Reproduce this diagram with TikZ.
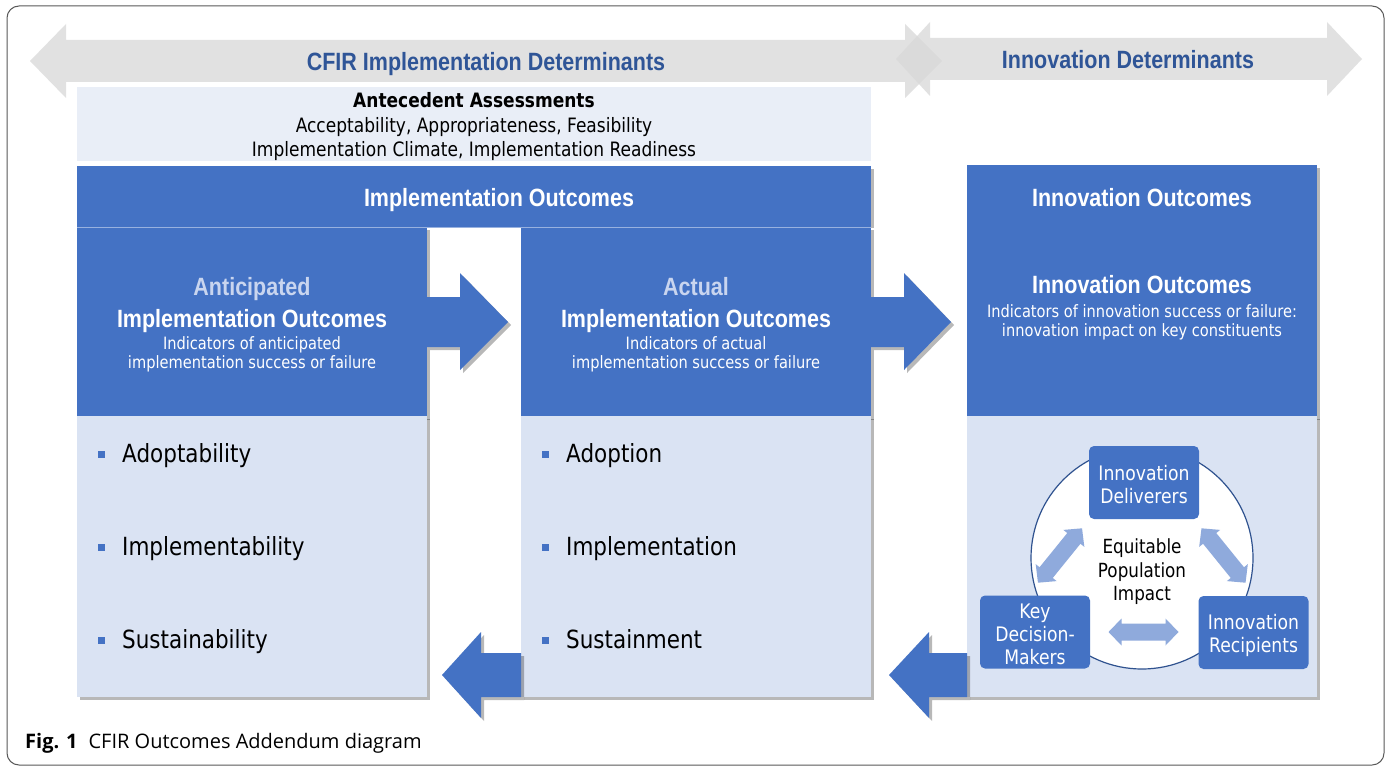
\documentclass[tikz,border=0pt]{standalone}
\usepackage{fontspec}
\setmainfont{DejaVu Sans}[FakeStretch=0.86]
\newfontfamily\headfont{Liberation Sans}[FakeStretch=0.86]
\newfontfamily\capfont{Open Sans}
\usetikzlibrary{shadows}
\definecolor{cblue}{HTML}{4472C4}
\definecolor{clight}{HTML}{DAE3F3}
\definecolor{cante}{HTML}{E9EEF7}
\definecolor{ctitle}{HTML}{2F5597}
\definecolor{cpale}{HTML}{C9D5EF}
\definecolor{carrow}{HTML}{8FAADC}
\definecolor{ccircle}{HTML}{2F528F}
\definecolor{cgray}{HTML}{D8D8D8}
\tikzset{
  shad/.style={drop shadow={shadow xshift=3pt, shadow yshift=-3pt, opacity=0.28, fill=black}},
  bluebox/.style={fill=cblue, draw=none, inner sep=0pt, outer sep=0pt, anchor=north west, shad},
  lightbox/.style={fill=clight, draw=none, inner sep=0pt, outer sep=0pt, anchor=north west, shad},
  bigtitle/.style={font=\headfont\bfseries\fontsize{25}{30}\selectfont, text=ctitle, anchor=base, inner sep=0pt},
  head/.style={font=\headfont\bfseries\fontsize{25}{30}\selectfont, text=white, anchor=base, inner sep=0pt},
  palehead/.style={head, text=cpale},
  ind/.style={font=\fontsize{17}{20}\selectfont, text=white, anchor=base, inner sep=0pt},
  ante/.style={font=\fontsize{19.8}{24}\selectfont, text=black, anchor=base, inner sep=0pt},
  item/.style={font=\fontsize{25}{30}\selectfont, text=black, anchor=base west, inner sep=0pt},
  bullet/.style={fill=cblue, minimum size=6.5pt, inner sep=0pt},
  role/.style={fill=cblue, rounded corners=5pt, minimum width=110pt, minimum height=73pt, inner sep=0pt},
  roletext/.style={text=white, font=\fontsize{20}{23}\selectfont, anchor=base, inner sep=0pt},
  grayarrow/.style={fill=cgray, opacity=0.75},
  blockarrow/.style={fill=cblue, shad},
  smallarrow/.style={fill=carrow}
}
\newcommand\dblarrow[3]{%
  \begin{scope}[shift={(#1,#2)}, rotate=#3]
    \fill[smallarrow] (-35,0) -- (-22,13.5) -- (-22,8.5) -- (22,8.5) -- (22,13.5) -- (35,0)
      -- (22,-13.5) -- (22,-8.5) -- (-22,-8.5) -- (-22,-13.5) -- cycle;
  \end{scope}}
\begin{document}
\begin{tikzpicture}[x=1pt,y=-1pt]
\useasboundingbox (0,0) rectangle (1391,773);
\fill[white] (0,0) rectangle (1391,773);
\draw[rounded corners=12pt, draw=black!65, line width=1pt] (7,6) rectangle (1384,765);

% top gray double arrows
\fill[grayarrow] (30,61) -- (66,24) -- (66,40) -- (905,40) -- (905,24) -- (942,61)
  -- (905,98) -- (905,82) -- (66,82) -- (66,98) -- cycle;
\fill[grayarrow] (896,59) -- (930,22) -- (930,38) -- (1327,38) -- (1327,22) -- (1362,59)
  -- (1327,96) -- (1327,80) -- (930,80) -- (930,96) -- cycle;
\node[bigtitle] (cfirT) at (486,71) {CFIR Implementation Determinants};
\node[bigtitle] (innT) at (1128,69) {Innovation Determinants};

% antecedent box
\node[fill=cante, anchor=north west, minimum width=794pt, minimum height=74pt, inner sep=0pt] (ante) at (77,87) {};
\node[ante, font=\fontsize{19.8}{24}\selectfont\bfseries] (a1) at (474,107) {Antecedent Assessments};
\node[ante] (a2) at (474,132) {Acceptability, Appropriateness, Feasibility};
\node[ante] (a3) at (474,156) {Implementation Climate, Implementation Readiness};

% implementation outcomes
\fill[black, opacity=0.28] (871,169) rectangle (874,228);
\node[bluebox, minimum width=350pt, minimum height=190pt] (antic) at (77,227) {};
\node[bluebox, minimum width=350pt, minimum height=190pt] (actual) at (521,227) {};
\node[fill=cblue, draw=none, inner sep=0pt, outer sep=0pt, anchor=north west, minimum width=794pt, minimum height=61pt] (impH) at (77,166) {};
\draw[cblue!55!white, line width=0.8pt] (impH.south west) -- (impH.south east);
\node[lightbox, minimum width=350pt, minimum height=281pt] (anticL) at (77,416) {};
\node[lightbox, minimum width=350pt, minimum height=281pt] (actualL) at (521,416) {};

% innovation outcomes
\node[bluebox, minimum width=350pt, minimum height=252pt] (innH) at (967,165) {};
\node[lightbox, minimum width=350pt, minimum height=281pt] (innL) at (967,416) {};

% block arrows
\fill[blockarrow] (antic.east |- 0,297) -- (460,297) -- (460,273) -- (508,322) -- (460,370) -- (460,347) -- (antic.east |- 0,347) -- cycle;
\fill[blockarrow] (actual.east |- 0,297) -- (904,297) -- (904,273) -- (951,322) -- (904,370) -- (904,347) -- (actual.east |- 0,347) -- cycle;
\fill[blockarrow] (actualL.west |- 0,653) -- (481,653) -- (481,632) -- (442,675) -- (481,718) -- (481,697) -- (actualL.south west) -- cycle;
\fill[blockarrow] (innL.west |- 0,653) -- (929,653) -- (929,632) -- (889,675) -- (929,718) -- (929,697) -- (innL.south west) -- cycle;

% texts
\node[head] (t1) at (499,206) {Implementation Outcomes};
\node[palehead] (t2) at (252,295) {Anticipated};
\node[head] (t3) at (252,327) {Implementation Outcomes};
\node[ind] (t4) at (252,349) {Indicators of anticipated};
\node[ind] (t5) at (252,368) {implementation success or failure};
\node[palehead] (t6) at (696,295) {Actual};
\node[head] (t7) at (696,327) {Implementation Outcomes};
\node[ind] (t8) at (696,349) {Indicators of actual};
\node[ind] (t9) at (696,368) {implementation success or failure};
\node[head] (t10) at (1142,206) {Innovation Outcomes};
\node[head] (t11) at (1142,293) {Innovation Outcomes};
\node[ind] (t12) at (1142,317) {Indicators of innovation success or failure:};
\node[ind] (t13) at (1142,336) {innovation impact on key constituents};

% bullet items
\foreach \y/\a/\b [count=\i] in {462/Adoptability/Adoption, 555/Implementability/Implementation, 648/Sustainability/Sustainment}{
  \node[bullet] (bl\i) at (101.5,\y-7.5) {};
  \node[item] (il\i) at (122,\y) {\a};
  \node[bullet] (bm\i) at (545.5,\y-7.5) {};
  \node[item] (im\i) at (566,\y) {\b};
}

% circle
\node[circle, draw=ccircle, fill=white, line width=1.2pt, minimum size=222pt, inner sep=0pt] (circ) at (1142,558) {};
\node[align=center, font=\fontsize{19.5}{23.5}\selectfont, inner sep=0pt] (eq) at (1142,572) {Equitable\\Population\\Impact};
\dblarrow{1060}{555.5}{51}
\dblarrow{1223.5}{555.5}{-51}
\dblarrow{1143.5}{632}{0}
\node[role] (deliv) at (1144,482.5) {};
\node[roletext] (d1) at (deliv.center |- 0,480) {Innovation};
\node[roletext] (d2) at (deliv.center |- 0,503) {Deliverers};
\node[role] (key) at (1035,632) {};
\node[roletext] (k1) at (key.center |- 0,618) {Key};
\node[roletext] (k2) at (key.center |- 0,641) {Decision-};
\node[roletext] (k3) at (key.center |- 0,664) {Makers};
\node[role] (recip) at (1253.5,632.5) {};
\node[roletext] (r1) at (recip.center |- 0,629) {Innovation};
\node[roletext] (r2) at (recip.center |- 0,652) {Recipients};

% caption
\node[anchor=base west, inner sep=0pt, font=\capfont\fontsize{20}{24}\selectfont] (cap) at (25,748)
  {\textbf{Fig. 1}\hspace{11pt}CFIR Outcomes Addendum diagram};
\end{tikzpicture}
\end{document}
